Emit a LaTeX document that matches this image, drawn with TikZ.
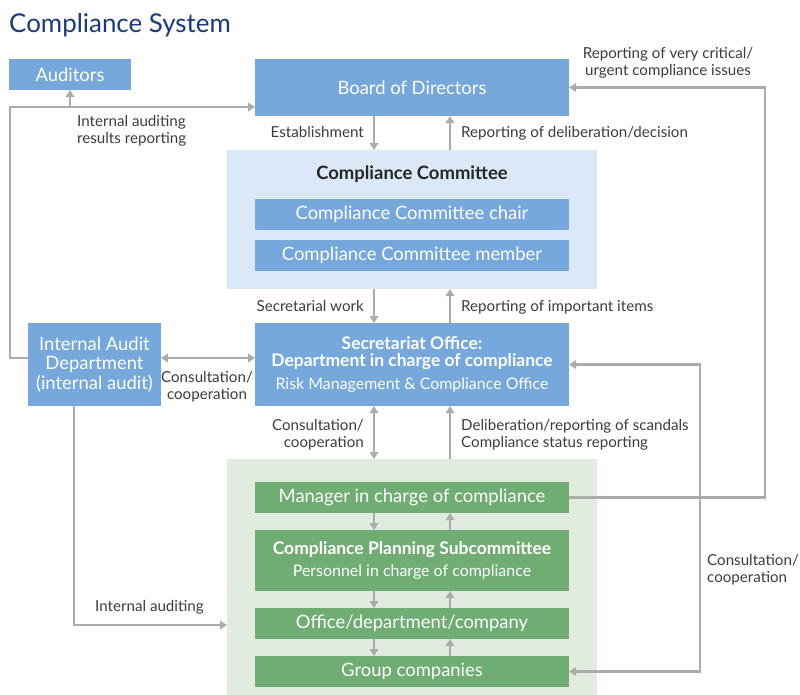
\documentclass[tikz,border=0pt]{standalone}
\usepackage{fontspec}
\setmainfont{Lato}
\usetikzlibrary{arrows.meta,positioning,calc}
\definecolor{navy}{HTML}{1B3A78}
\definecolor{bbox}{HTML}{76A8DB}
\definecolor{bsoft}{HTML}{DBE8F7}
\definecolor{gbox}{HTML}{70AD73}
\definecolor{gsoft}{HTML}{E1EBE0}
\definecolor{arrg}{HTML}{ABABAB}
\definecolor{txt}{HTML}{3C3C3C}

\begin{document}
\begin{tikzpicture}[x=1bp,y=-1bp,
  bx/.style={fill=bbox,text=white,align=center,inner sep=0pt,outer sep=0pt,minimum width=314bp,minimum height=31bp,font=\fontsize{18.5}{20}\selectfont},
  gx/.style={bx,fill=gbox},
  bg/.style={inner sep=0pt,outer sep=0pt,minimum width=370bp},
  lb/.style={text=txt,inner sep=0pt,font=\fontsize{15.2}{17}\selectfont},
  ar/.style={draw=arrg,line width=2.4bp,-{Triangle[length=7bp,width=8.5bp]}},
  da/.style={ar,{Triangle[length=7bp,width=8.5bp]}-{Triangle[length=7bp,width=8.5bp]}}]
  \useasboundingbox (0,0) rectangle (800,695);
  \node[anchor=base west,inner sep=0pt,text=navy,font=\fontsize{26}{30}\selectfont] (title) at (9,33) {Compliance System};
  % top
  \node[bx,minimum height=57bp] (board) at (412,87.5) {Board of Directors};
  \node[bx,minimum width=121bp] (aud) at (70,74.5) {Auditors};
  % committee
  \node[bg,fill=bsoft,minimum height=139bp,below=34bp of board] (ccbg) {};
  \node[inner sep=0pt,text=black!85,font=\bfseries\fontsize{18.5}{20}\selectfont] (cct) at ($(ccbg.north)+(0,24)$) {Compliance Committee};
  \node[bx] (chair) at ($(ccbg.north)+(0,64.5)$) {Compliance Committee chair};
  \node[bx,below=10bp of chair] (member) {Compliance Committee member};
  % secretariat
  \node[bx,minimum height=83bp,below=34bp of ccbg,font=\bfseries\fontsize{17.5}{17}\selectfont] (sec) {Secretariat Office:\\Department in charge of compliance\\[6bp]{\mdseries\fontsize{16}{17}\selectfont Risk Management \& Compliance Office}};
  \node[bx,minimum width=133bp,minimum height=83bp,left=94bp of sec] (iad) {Internal Audit\\Department\\(internal audit)};
  % green stack
  \node[bg,fill=gsoft,minimum height=236bp,below=53bp of sec] (grbg) {};
  \node[gx] (mgr) at ($(grbg.north)+(0,38.5)$) {Manager in charge of compliance};
  \node[gx,minimum height=61bp,below=17bp of mgr,font=\bfseries\fontsize{17.5}{22}\selectfont] (plan) {Compliance Planning Subcommittee\\{\mdseries\fontsize{16}{22}\selectfont Personnel in charge of compliance}};
  \node[gx,below=17bp of plan] (ofc) {Office/department/company};
  \node[gx,below=17bp of ofc] (grp) {Group companies};
  % helper columns and rows
  \coordinate (cl) at (374,0);
  \coordinate (cr) at (450,0);
  \coordinate (lp) at (10,107);
  \coordinate (ra) at (0,358);
  \coordinate (ia) at (74,625);
  \coordinate (rx) at (765,0);
  \coordinate (cx) at (700,0);
  % vertical flow
  \draw[ar] (board.south -| cl) -- (ccbg.north -| cl);
  \draw[ar] (ccbg.north -| cr) -- (board.south -| cr);
  \draw[ar] (ccbg.south -| cl) -- (sec.north -| cl);
  \draw[ar] (sec.north -| cr) -- (ccbg.south -| cr);
  \draw[da] (sec.south -| cl) -- (grbg.north -| cl);
  \draw[ar] (grbg.north -| cr) -- (sec.south -| cr);
  \foreach \a/\b in {mgr/plan,plan/ofc,ofc/grp}{
    \draw[ar] (\a.south -| cl) -- (\b.north -| cl);
    \draw[ar] (\b.north -| cr) -- (\a.south -| cr);}
  % audit side
  \draw[ar] (iad.west |- ra) -| (lp) -- (board.west |- lp);
  \draw[ar] (aud.south |- lp) -- (aud.south);
  \draw[da] (iad.east |- ra) -- (sec.west |- ra);
  \draw[ar] (iad.south -| ia) |- (grbg.west |- ia);
  % right side
  \draw[ar] (mgr.east) -| (rx |- board.east) -- (board.east);
  \draw[da] (sec.east) -| (cx |- grp.east) -- (grp.east);
  % labels
  \node[lb,anchor=north west,align=left] (lres) at (77,115) {Internal auditing\\results reporting};
  \node[lb,anchor=base east] (lest) at (364,138) {Establishment};
  \node[lb,anchor=base west] (ldec) at (461,138) {Reporting of deliberation/decision};
  \node[lb,anchor=base east] (lsw) at (364,311) {Secretarial work};
  \node[lb,anchor=base west] (limp) at (461,311) {Reporting of important items};
  \node[lb,anchor=north,align=center] (lcc1) at (207,371) {Consultation/\\cooperation};
  \node[lb,anchor=north east,align=right] (lcc2) at (364,419) {Consultation/\\cooperation};
  \node[lb,anchor=north west,align=left] (lscan) at (461,419) {Deliberation/reporting of scandals\\Compliance status reporting};
  \node[lb,anchor=north,align=center] (lurg) at (668,47) {Reporting of very critical/\\urgent compliance issues};
  \node[lb,anchor=north west,align=left] (lcc3) at (707,554) {Consultation/\\cooperation};
  \node[lb,anchor=base west] (lia) at (95,611) {Internal auditing};
\end{tikzpicture}
\end{document}
